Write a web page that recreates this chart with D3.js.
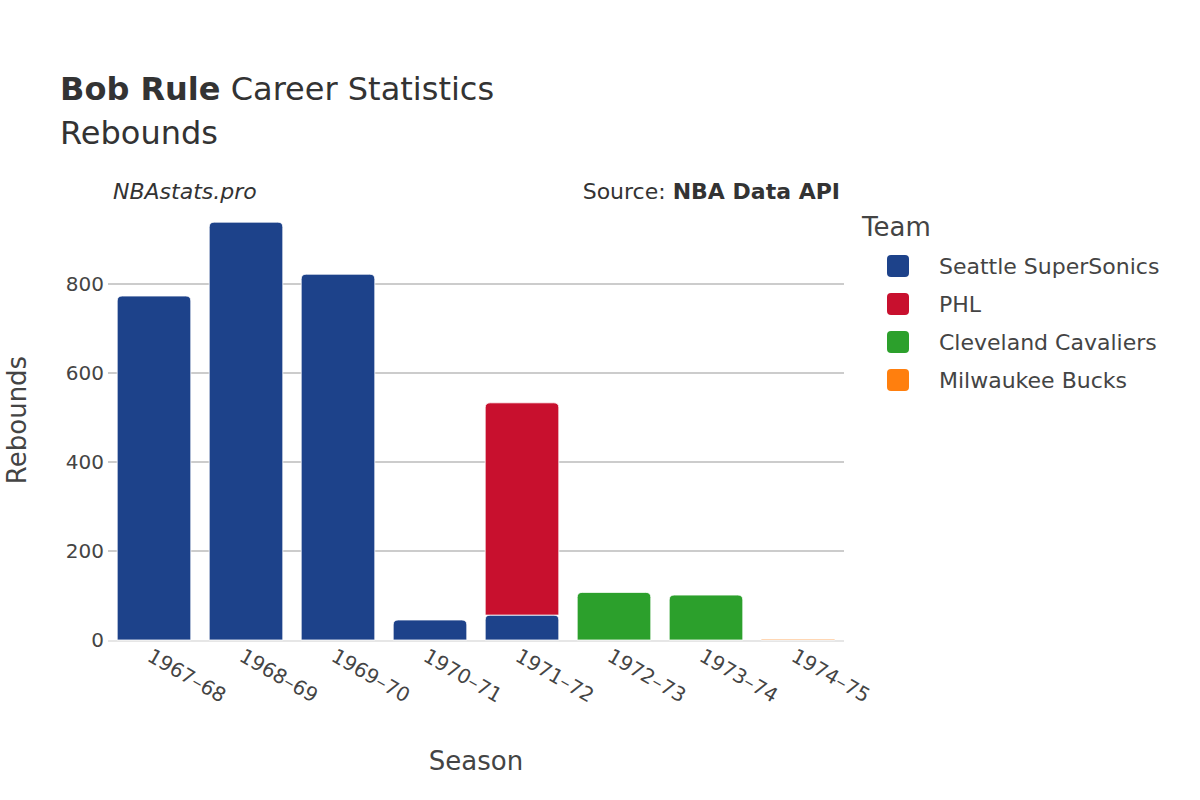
<!DOCTYPE html>
<html><head><meta charset="utf-8">
<script src="https://cdn.jsdelivr.net/npm/d3@7"></script>
<style>body{margin:0;background:#fff;font-family:"DejaVu Sans",sans-serif;}</style>
</head><body><div id="chart"></div>
<script>
var seasons = ["1967–68","1968–69","1969–70","1970–71","1971–72","1972–73","1973–74","1974–75"];
var teams = ["Seattle SuperSonics","PHL","Cleveland Cavaliers","Milwaukee Bucks"];
var colors = ["#1d428a","#c8102e","#2ca02c","#ff7f0e"];
var seattle = [773, 939, 822, 45, 56, 0, 0, 0];
var phl = [0, 0, 0, 0, 477, 0, 0, 0];
var cleveland = [0, 0, 0, 0, 0, 107, 101, 0];
var milwaukee = [0, 0, 0, 0, 0, 0, 0, 2];
var yTicks = [0, 200, 400, 600, 800];

var svg = d3.select("#chart").append("svg").attr("width", 1200).attr("height", 800);
var left = 108, right = 844, top = 200, bottom = 640;

var x = d3.scaleBand().domain(seasons).range([left, right]).paddingInner(0.2).paddingOuter(0.1);
var y = d3.scaleLinear().domain([0, 800]).range([bottom, 284]);

// gridlines
svg.selectAll(".grid").data(yTicks.slice(1)).enter().append("line")
  .attr("x1", left).attr("x2", right)
  .attr("y1", d => y(d)).attr("y2", d => y(d))
  .attr("stroke", "#999").attr("stroke-width", 1);
svg.append("line").attr("x1", left).attr("x2", right).attr("y1", bottom + 1).attr("y2", bottom + 1)
  .attr("stroke", "#e6e6e6").attr("stroke-width", 2);

var series = [seattle, phl, cleveland, milwaukee];
seasons.forEach(function(s, i) {
  var base = 0;
  series.forEach(function(vals, k) {
    var v = vals[i];
    if (v <= 0) return;
    var y0 = y(base), y1 = y(base + v);
    var w = x.bandwidth(), x0 = x(s), h = y0 - y1, r = Math.min(5, h / 2);
    var path = `M${x0},${y0} L${x0},${y1 + r} Q${x0},${y1} ${x0 + r},${y1} L${x0 + w - r},${y1} Q${x0 + w},${y1} ${x0 + w},${y1 + r} L${x0 + w},${y0} Z`;
    svg.append("path").attr("d", path).attr("fill", colors[k])
      .attr("stroke", "#fff").attr("stroke-width", 0.8);
    base += v;
  });
});

// y axis labels
svg.selectAll(".yt").data(yTicks).enter().append("text")
  .attr("x", left - 4).attr("y", d => y(d)).attr("dy", "0.35em")
  .attr("text-anchor", "end").attr("font-size", 20).attr("fill", "#444").text(d => d);

// x axis labels
svg.selectAll(".xt").data(seasons).enter().append("text")
  .attr("transform", d => `translate(${x(d) + x.bandwidth() / 2 - 8},${bottom + 20}) rotate(30)`)
  .attr("font-size", 20).attr("fill", "#444").text(d => d);

svg.append("text").attr("x", 476).attr("y", 770).attr("text-anchor", "middle")
  .attr("font-size", 26).attr("fill", "#444").text("Season");
svg.append("text").attr("transform", "translate(26,420) rotate(-90)").attr("text-anchor", "middle")
  .attr("font-size", 26).attr("fill", "#444").text("Rebounds");

// title
var t = svg.append("text").attr("x", 60).attr("y", 100).attr("font-size", 32).attr("fill", "#333");
t.append("tspan").attr("font-weight", "bold").text("Bob Rule");
t.append("tspan").text(" Career Statistics");
svg.append("text").attr("x", 60).attr("y", 144).attr("font-size", 32).attr("fill", "#333").text("Rebounds");

svg.append("text").attr("x", 113).attr("y", 199).attr("font-size", 22).attr("font-style", "italic")
  .attr("fill", "#333").text("NBAstats.pro");
var src = svg.append("text").attr("x", 840).attr("y", 199).attr("text-anchor", "end")
  .attr("font-size", 22).attr("fill", "#333");
src.append("tspan").text("Source: ");
src.append("tspan").attr("font-weight", "bold").text("NBA Data API");

// legend
svg.append("text").attr("x", 862).attr("y", 236).attr("font-size", 26).attr("fill", "#444").text("Team");
var lg = svg.selectAll(".lg").data(teams).enter().append("g")
  .attr("transform", (d, i) => `translate(887,${266 + i * 38})`);
lg.append("rect").attr("x", 0).attr("y", -11).attr("width", 22).attr("height", 22).attr("rx", 4)
  .attr("fill", (d, i) => colors[i]);
lg.append("text").attr("x", 52).attr("dy", "0.35em").attr("font-size", 22).attr("fill", "#444").text(d => d);
</script></body></html>
